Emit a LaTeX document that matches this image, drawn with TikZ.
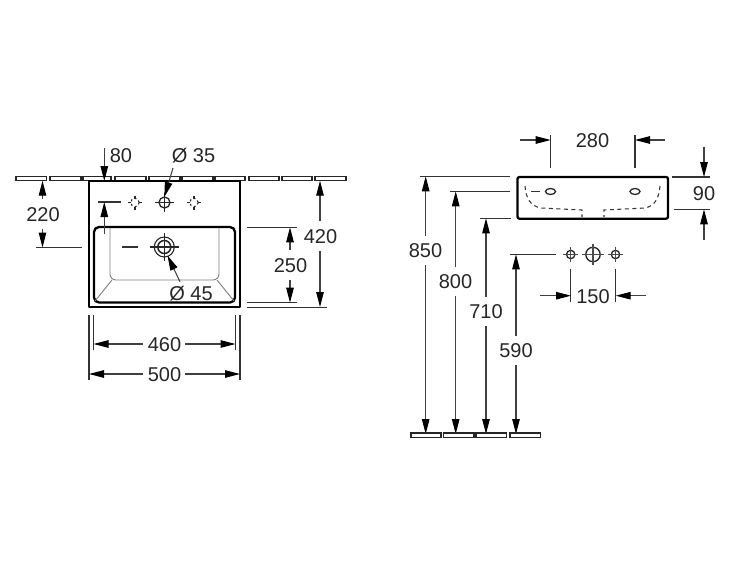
\documentclass[tikz,border=0pt]{standalone}
\usepackage{fontspec}
\setmainfont{Liberation Sans}
\usetikzlibrary{arrows.meta}
\tikzset{
 dim/.style={line width=1.05pt,draw=black!75},
 arr/.style={dim,-{Triangle[length=15pt,width=7.5pt,fill=black,color=black]}},
 ext/.style={line width=1.05pt,draw=black!80},
 labn/.style={font=\fontsize{20}{20}\selectfont,text=black!85,inner sep=1pt},
 plate/.style={line width=1.05pt,draw=black!85,fill=white},
 heavy/.style={line width=2.3pt,draw=black,line join=round},
 thin2/.style={line width=0.9pt,draw=black!50},
 hole/.style={line width=1.1pt,draw=black!85},
 dsh/.style={line width=1.05pt,draw=black!80,dash pattern=on 4pt off 3.5pt}
}
\newcommand{\crossmark}[3]{% x y r
 \draw[hole,line width=1.3pt] (#1,#2) circle (#3);
 \draw[hole,draw=black!70] (#1-#3-3.5,#2)--(#1+#3+3.5,#2) (#1,#2-#3-3.5)--(#1,#2+#3+3.5);
}
\newcommand{\dotmark}[2]{%
 \draw[hole,dash pattern=on 2pt off 2.7pt] (#1,#2) circle (4.2);
 \draw[hole] (#1-7,#2)--(#1-4,#2) (#1+4,#2)--(#1+7,#2) (#1,#2-7)--(#1,#2-4) (#1,#2+4)--(#1,#2+7);
}
\begin{document}
\begin{tikzpicture}[x=1pt,y=-1pt]
\useasboundingbox (0,0) rectangle (750,563);
% wall plates top
\foreach \a/\b in {16/46.5,50/81,83/111,115/146,149/180,182/213,215/245,249/279,282/312,315/346}{
 \draw[plate] (\a,176.5) rectangle (\b,180.5);
}
% basin front
\draw[heavy,fill=white] (89,181) rectangle (240,307);
\draw[heavy,rounded corners=5pt] (94,302.5) -- (94,227) -- (235,227) -- (235,302.5) -- cycle;
\draw[thin2,rounded corners=6pt] (110,228) -- (110,280) -- (219,280) -- (219,228);
\draw[thin2] (95,301) -- (112,280) (234,301) -- (217,280);
% holes
\dotmark{135}{202.5}
\dotmark{194}{202.5}
\draw[hole,line width=1.3pt] (164.5,202.5) circle (5.5); \draw[hole] (155,202.5)--(174,202.5) (164.5,193)--(164.5,212);
\draw[ext] (98,202) -- (121,202);
\draw[ext] (122,247) -- (138,247);
\draw[ext] (36,247.3) -- (82,247.3);
% drain
\draw[hole] (164.3,247) circle (10);
\draw[hole,line width=1.5pt] (164.3,247) circle (6.5);
\draw[hole] (150,247)--(178.5,247) (164.3,233)--(164.3,261);
% 80
\node[labn] (l80) at (121,155.5) {80};
\coordinate (a80s) at (104.3,148); \coordinate (a80e) at (104.3,181);
\draw[arr] (a80s) -- (a80e);
\coordinate (a80bs) at (104.3,234); \coordinate (a80be) at (104.3,202);
\draw[arr] (a80bs) -- (a80be);
% 35
\node[labn] (l35) at (193.5,156) {Ø 35};
\coordinate (c35) at (164.3,197);
\draw[arr] (173,168) -- (c35);
% 45
\node[labn] (l45) at (191,294) {Ø 45};
\draw[arr] (180,281.7) -- (167.5,255.5);
% 220
\node[labn] (l220) at (43,215) {220};
\draw[arr] (42.5,199) -- (42.5,180.7);
\draw[arr] (42.5,229) -- (42.5,247.5);
% 250, 420
\draw[ext] (247,227.3) -- (296.7,227.3);
\draw[ext] (247,302.7) -- (296.7,302.7);
\draw[ext] (247,307.3) -- (326.7,307.3);
\node[labn] (l420) at (320.5,236.5) {420};
\node[labn] (l250) at (290.5,266) {250};
\draw[arr] (320,221) -- (320,180.7);
\draw[arr] (320,251) -- (320,307);
\draw[arr] (290,250) -- (290,227.3);
\draw[arr] (290,280) -- (290,302.7);
% 460, 500
\draw[ext] (89,315) -- (89,380) (93.5,315) -- (93.5,350);
\draw[ext] (235.5,315) -- (235.5,350) (240,315) -- (240,380);
\node[labn] (l460) at (164.5,345) {460};
\node[labn] (l500) at (164.5,375) {500};
\draw[arr] (143,344) -- (93.5,344);
\draw[arr] (185,344) -- (235.5,344);
\draw[arr] (143,374) -- (89,374);
\draw[arr] (185,374) -- (240,374);
% side view
\draw[heavy,rounded corners=2pt] (517.5,177) rectangle (668,218.7);
\draw[dsh] (525,186) .. controls (526,198) and (530,206) .. (541,208) -- (582,210) -- (582,217);
\draw[dsh] (660,186) .. controls (659,198) and (655,206) .. (645,208) -- (604,210) -- (604,217);
\draw[ext] (531,191.5) -- (540,191.5);
\draw[hole,line width=1.3pt] (550.5,191.5) ellipse (5 and 3);
\draw[hole,line width=1.3pt] (635,191.5) ellipse (5 and 3);
% side extension lines
\draw[ext] (420,176.3) -- (510,176.3);
\draw[ext] (450,191.3) -- (510,191.3);
\draw[ext] (480,218.3) -- (511,218.3);
\draw[ext] (510,254.3) -- (556,254.3);
% 850 800 710 590
\node[labn] (l850) at (425.5,251) {850};
\node[labn] (l800) at (455.5,282) {800};
\node[labn] (l710) at (486,312) {710};
\node[labn] (l590) at (516,351) {590};
\draw[arr] (425.7,236) -- (425.7,176.3);
\draw[arr] (425.7,265) -- (425.7,434);
\draw[arr] (455.7,267) -- (455.7,191.3);
\draw[arr] (455.7,296) -- (455.7,434);
\draw[arr] (486,297) -- (486,218.3);
\draw[arr] (486,326) -- (486,434);
\draw[arr] (516,336) -- (516,254.3);
\draw[arr] (516,365) -- (516,434);
% floor plates
\foreach \a/\b in {411/441,443.5/474,476/506.5,510/540.5}{
 \draw[plate] (\a,433) rectangle (\b,437.5);
}
% 280
\node[labn] (l280) at (592.5,141) {280};
\draw[ext] (550.7,135) -- (550.7,168) (635,135) -- (635,168);
\draw[arr] (520,140) -- (550.7,140);
\draw[arr] (665,140) -- (635,140);
% 90
\node[labn] (l90) at (704,193.5) {90};
\draw[ext] (672,177) -- (710,177) (674,209.3) -- (710,209.3);
\draw[arr] (704,146.7) -- (704,177);
\draw[arr] (704,240) -- (704,209.3);
% holes
\crossmark{570.7}{254.5}{4.2}
\crossmark{593}{254.5}{7.2}
\crossmark{615.5}{254.5}{4.2}
% 150
\node[labn] (l150) at (593,296.5) {150};
\draw[ext] (570.7,269) -- (570.7,302) (615.7,269) -- (615.7,302);
\draw[arr] (540,295.7) -- (571,295.7);
\draw[arr] (646,295.7) -- (615.7,295.7);
\end{tikzpicture}
\end{document}
